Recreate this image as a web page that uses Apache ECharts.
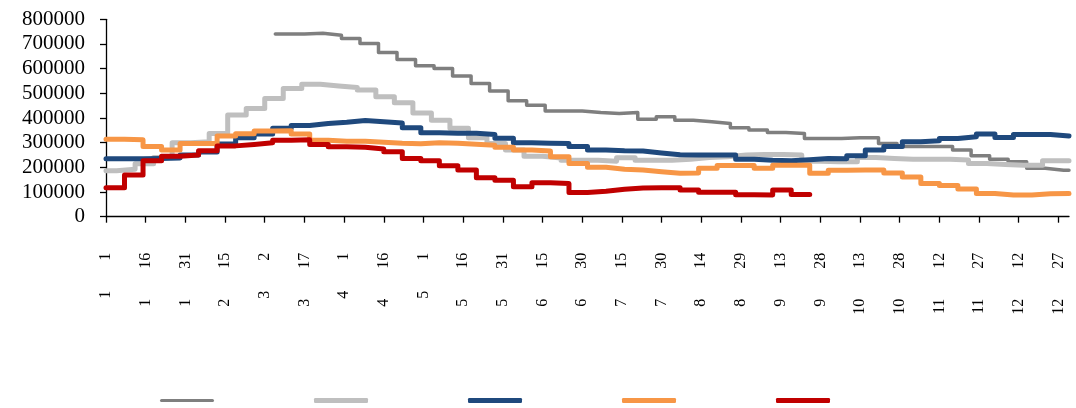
<!DOCTYPE html>
<html>
<head>
<meta charset="utf-8">
<script src="https://cdn.jsdelivr.net/npm/echarts@6/dist/echarts.min.js"></script>
<style>
html,body{margin:0;padding:0;background:#fff;}
#chart{width:1076px;height:408px;}
</style>
</head>
<body>
<div id="chart"></div>
<script>
// Daily categories of a non-leap year (month/day)
const monthLengths = [31,28,31,30,31,30,31,31,30,31,30,31];
const categories = [];
monthLengths.forEach((n, mi) => { for (let d = 1; d <= n; d++) categories.push((mi + 1) + '/' + d); });

function range(a, b, step) { const r = []; for (let v = a; v <= b; v += step) r.push(v); return r; }

// Observation days (day index within the year) for each series
const weekDays = range(0, 364, 7);                    // blue, orange, red
const lightGrayDays = [0].concat(range(4, 361, 7), [364]);
const darkGrayDays = [64].concat(range(68, 362, 7), [364]);

const yTicks = [0,100000,200000,300000,400000,500000,600000,700000,800000];

const seriesNames = ['系列1','系列2','系列3','系列4','系列5'];

const darkGray = [740000,
  740000,743000,735000,722000,702000,665000,637000,612000,601000,570000,540000,509000,470000,452000,428000,428000,
  422000,418000,422000,395000,405000,391000,385000,378000,360000,351000,341000,337000,317000,
  317000,320000,320000,297000,284000,284000,284000,270000,247000,233000,223000,196000,188000,188000,
  188000];

const lightGray = [186000,
  192000,215000,240000,300000,304000,337000,412000,439000,479000,520000,537000,530000,
  524000,513000,486000,462000,420000,391000,358000,320000,297000,270000,245000,238000,229000,
  229000,225000,239000,229000,229000,233000,240000,243000,250000,252000,252000,250000,225000,
  223000,223000,240000,236000,233000,233000,233000,230000,216000,212000,209000,209000,227000,227000,
  227000];

const blue = [235000,235000,236000,238000,250000,262000,295000,320000,335000,358000,370000,378000,383000,
  390000,385000,380000,360000,340000,338000,338000,333000,318000,300000,298000,297000,285000,
  270000,267000,266000,258000,251000,250000,250000,250000,233000,229000,227000,231000,236000,
  235000,247000,270000,284000,304000,308000,317000,324000,335000,321000,333000,333000,327000,326000];

const orange = [314000,312000,285000,270000,297000,297000,327000,336000,347000,348000,335000,310000,306000,
  306000,302000,298000,296000,300000,298000,294000,290000,281000,270000,266000,243000,216000,
  200000,192000,189000,182000,176000,177000,196000,207000,207000,196000,209000,209000,176000,
  188000,189000,189000,177000,161000,135000,126000,112000,94000,88000,88000,93000,94000,94000];

const red = [117000,169000,227000,245000,250000,267000,287000,293000,300000,310000,312000,293000,283000,
  281000,274000,263000,236000,227000,206000,189000,158000,148000,121000,138000,135000,98000,
  103000,111000,116000,117000,117000,108000,99000,99000,89000,88000,108000,90000,90000];

const colors = ['#7f7f7f','#bfbfbf','#1f497d','#f79646','#c00000'];
const widths = [3.5,5,5,5,5];
const seriesValues = [darkGray, lightGray, blue, orange, red];
const seriesDays = [darkGrayDays, lightGrayDays, weekDays, weekDays, weekDays];

const FONT = "'Times New Roman','Liberation Serif',serif";

function toPairs(days, vals) { return vals.map((v, k) => [days[k], v]); }

const chart = echarts.init(document.getElementById('chart'), null, {renderer:'canvas'});
chart.setOption({
  animation: false,
  backgroundColor: '#fff',
  grid: {left: 106, right: 7, top: 19.3, bottom: 191.3, containLabel: false},
  legend: {
    left: 155, top: 393, itemWidth: 54, itemHeight: 5, itemGap: 100,
    icon: 'roundRect',
    symbolKeepAspect: true,
    formatter: () => '',
    textStyle: {fontSize: 12},
    data: seriesNames.map((n, i) => i === 0
      ? {name: n, icon: 'path://M1.5,0 L52.5,0 A1.5,1.5 0 0 1 52.5,3 L1.5,3 A1.5,1.5 0 0 1 1.5,0 Z'}
      : {name: n})
  },
  xAxis: {
    type: 'category',
    data: categories,
    boundaryGap: false,
    axisLine: {lineStyle: {color: '#000', width: 1.3}},
    axisTick: {interval: 14, length: 6, lineStyle: {color: '#000', width: 1.3}},
    axisLabel: {
      interval: 14, rotate: 90, margin: 36,
      fontFamily: FONT, fontSize: 16, color: '#000',
      formatter: (v) => { const p = v.split('/'); return '{m|' + p[0] + '}{d|' + p[1] + '}'; },
      rich: {
        m: {fontFamily: FONT, fontSize: 16, color: '#000'},
        d: {fontFamily: FONT, fontSize: 16, color: '#000', padding: [0, 0, 0, 30]}
      }
    },
    splitLine: {show: false}
  },
  yAxis: {
    type: 'value',
    min: yTicks[0], max: yTicks[yTicks.length - 1], interval: yTicks[1] - yTicks[0],
    axisLine: {show: true, lineStyle: {color: '#000', width: 1.3}},
    axisTick: {show: true, length: 6, lineStyle: {color: '#000', width: 1.3}},
    axisLabel: {margin: 21, fontFamily: FONT, fontSize: 21, color: '#000', formatter: (v) => String(v)},
    splitLine: {show: false}
  },
  series: seriesValues.map((arr, i) => ({
    name: seriesNames[i],
    type: 'line',
    step: 'end',
    symbol: 'none',
    color: colors[i],
    lineStyle: {color: colors[i], width: widths[i], cap: 'round', join: 'round'},
    data: toPairs(seriesDays[i], arr)
  }))
});
</script>
</body>
</html>
